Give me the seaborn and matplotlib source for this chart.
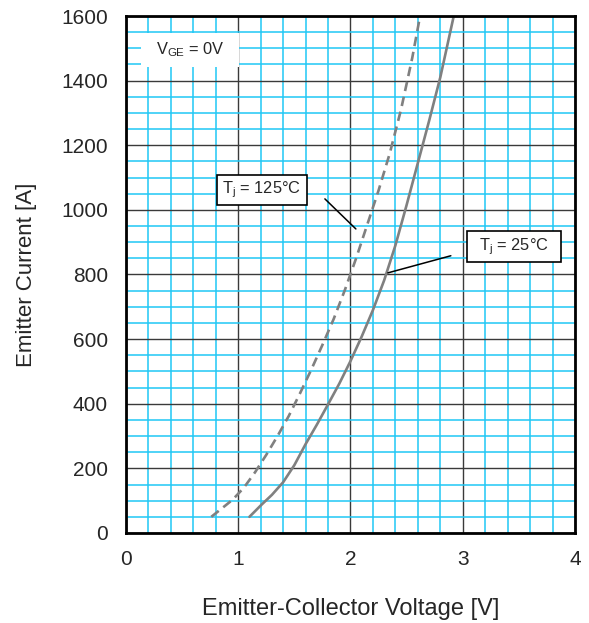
import matplotlib
matplotlib.use("Agg")
import matplotlib.pyplot as plt
from matplotlib.ticker import MultipleLocator
from matplotlib.patches import Rectangle
import seaborn as sns
import pandas as pd

# Forward characteristics of the freewheel diode, V_GE = 0V
v_125 = [0.76, 0.85, 0.95, 1.05, 1.15, 1.25, 1.35, 1.45, 1.55, 1.65, 1.75,
         1.85, 1.95, 2.05, 2.15, 2.25, 2.35, 2.45, 2.55, 2.62]
i_125 = [50, 75, 103, 140, 188, 242, 300, 362, 432, 505, 582,
         662, 752, 850, 955, 1060, 1175, 1310, 1470, 1600]

v_25 = [1.10, 1.20, 1.30, 1.40, 1.50, 1.60, 1.70, 1.80, 1.90, 2.00,
        2.10, 2.20, 2.30, 2.40, 2.50, 2.60, 2.70, 2.80, 2.92]
i_25 = [50, 85, 118, 157, 210, 275, 335, 398, 462, 532,
        608, 690, 782, 890, 1015, 1145, 1275, 1410, 1600]

x_ticks = [0, 1, 2, 3, 4]
y_ticks = [0, 200, 400, 600, 800, 1000, 1200, 1400, 1600]

label_125 = r"T$_\mathregular{j}$ = 125°C"
label_25 = r"T$_\mathregular{j}$ = 25°C"
label_vge = r"V$_\mathregular{GE}$ = 0V"

sns.set_style("white")
plt.rcParams["font.family"] = ["Liberation Sans", "DejaVu Sans"]

fig = plt.figure(figsize=(5.89, 6.23), dpi=100)
ax = fig.add_axes([0.2139, 0.1445, 0.7623, 0.8298])

df125 = pd.DataFrame({"V": v_125, "I": i_125})
df25 = pd.DataFrame({"V": v_25, "I": i_25})

line_kw = dict(color="#808080", linewidth=1.9, zorder=5, legend=False)
sns.lineplot(data=df125, x="V", y="I", ax=ax, sort=False,
             dashes=False, **line_kw)
ax.lines[-1].set_dashes((3.6, 2.2))
sns.lineplot(data=df25, x="V", y="I", ax=ax, sort=False, **line_kw)

ax.set_xlim(0, 4)
ax.set_ylim(0, 1600)
ax.set_xticks(x_ticks)
ax.set_yticks(y_ticks)
ax.xaxis.set_minor_locator(MultipleLocator(0.2))
ax.yaxis.set_minor_locator(MultipleLocator(50))

ax.grid(which="minor", color="#1fc8f5", linewidth=1.1, zorder=0)
ax.grid(which="major", color="#3a3a3a", linewidth=1.0, zorder=1)
ax.set_axisbelow(True)

ax.tick_params(which="both", length=0)
ax.tick_params(axis="x", labelsize=15, pad=12)
ax.tick_params(axis="y", labelsize=15, pad=13)

for s in ax.spines.values():
    s.set_linewidth(2.0)
    s.set_color("black")
    s.set_zorder(10)

ax.set_xlabel("Emitter-Collector Voltage [V]", fontsize=17, labelpad=21)
ax.set_ylabel("Emitter Current [A]", fontsize=16, labelpad=17)

# V_GE label on a white patch over the grid
ax.add_patch(Rectangle((0.134, 1443), 0.873, 105, facecolor="white",
                       edgecolor="none", zorder=3))
ax.text(0.57, 1495, label_vge, fontsize=11.8, ha="center", va="center", zorder=4)

# Curve labels in boxes with leader lines
ax.add_patch(Rectangle((0.81, 1015), 0.80, 93, facecolor="white",
                       edgecolor="black", linewidth=1.2, zorder=6))
ax.text(1.21, 1061, label_125, fontsize=11.8, ha="center", va="center", zorder=7)
ax.plot([1.772, 2.048], [1034, 941], color="black", linewidth=1.1, zorder=6)

ax.add_patch(Rectangle((3.036, 839), 0.837, 96, facecolor="white",
                       edgecolor="black", linewidth=1.2, zorder=6))
ax.text(3.455, 887, label_25, fontsize=11.8, ha="center", va="center", zorder=7)
ax.plot([2.894, 2.333], [858, 805], color="black", linewidth=1.1, zorder=6)

fig.savefig("out.png", dpi=100)
